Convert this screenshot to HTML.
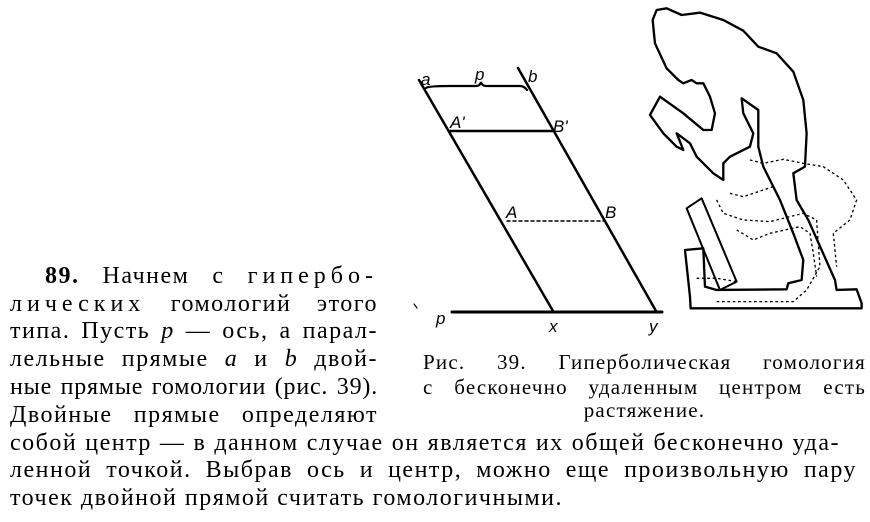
<!DOCTYPE html>
<html><head><meta charset="utf-8"><style>
body{margin:0;width:870px;height:522px;background:#fff;position:relative;overflow:hidden;font-family:"Liberation Serif","Noto Serif CJK SC",serif;color:#000}
.l{position:absolute;font-size:24px;letter-spacing:1.5px;line-height:28px;height:28px;white-space:nowrap;text-align:justify;text-align-last:justify}
.s{letter-spacing:5px}
.c{position:absolute;font-size:21px;letter-spacing:1.2px;line-height:24px;white-space:nowrap;text-align:justify;text-align-last:justify;left:423px;width:443px}
svg{position:absolute;left:0;top:0}
</style></head><body>
<svg width="870" height="522" viewBox="0 0 870 522">
<g stroke="#000" fill="none" stroke-linecap="round">
<line x1="419" y1="80" x2="553" y2="311" stroke-width="2.5"/>
<line x1="518" y1="68" x2="656" y2="311" stroke-width="2.5"/>
<path d="M426 88 Q428 86 450 86 L476 86 Q480 86 481 82 Q482 86 486 86 L520 86 Q524 86 527 90" stroke-width="2.2"/>
<line x1="449" y1="131" x2="553" y2="131" stroke-width="2.5"/>
<line x1="507" y1="221" x2="605" y2="221" stroke-width="1.5" stroke-dasharray="3,3"/>
<line x1="452" y1="312" x2="662" y2="312" stroke-width="3"/>
<line x1="414" y1="304" x2="417" y2="308" stroke-width="1.2"/>
</g>
<g font-family="Liberation Sans,sans-serif" font-style="italic" font-size="17" fill="#000">
<text x="421" y="85">a</text><text x="475" y="80">p</text><text x="528" y="82">b</text>
<text x="450" y="128">A'</text><text x="553" y="132">B'</text>
<text x="506" y="218">A</text><text x="605" y="218">B</text>
<text x="436" y="324">p</text><text x="549" y="332">x</text><text x="649" y="332">y</text>
</g>
<g transform="translate(410,0) scale(0.3333)" stroke="#000" fill="none" stroke-width="7" stroke-linejoin="round">
<path d="M805 240 L770 205 L735 130 L728 60 L740 30 L770 25 L815 45 L870 38 L940 60 L1000 92 L1045 140 L1100 160 L1150 215 L1180 300 L1190 400 L1185 500 L1150 520 L1160 600 L1195 660 L1235 750 L1275 840 L1280 870 L1340 868 L1355 910 L1355 925 L842 925 L840 890 L825 750 L880 745 L885 860 L920 870 L1130 868 L1135 850 L1175 840 L1180 780 L1150 700 L1110 600 L1060 500 L1045 440 L1045 330 L995 295 L1000 340 L1030 400 L1020 440 L960 470 L940 490 L940 540 L910 520 L860 470 L840 430 L800 400 L820 450 L800 440 L760 400 L720 345 L750 290 L820 340 L880 390 L905 390 L915 340 L900 290 L880 250 L860 250 L845 240 L820 250 Z"/>
<path d="M830 625 L875 595 L980 845 L930 870 Z" stroke-width="6"/>
<g stroke-width="4" stroke-dasharray="8,8">
<path d="M1020 480 L1060 490 L1120 478 L1180 490 L1240 500 L1300 540 L1340 600 L1320 660 L1270 700 L1280 800"/>
<path d="M920 600 L940 640 L1000 660 L1080 665 L1180 640 L1220 660 L1230 800 L1190 870 L1150 905 L920 905"/>
<path d="M960 580 L1000 590 L1060 570 L1090 560"/>
<path d="M980 690 L1030 720 L1080 700 L1170 680 L1200 700 L1210 760 L1220 830"/>
<path d="M860 835 L920 835 L980 845"/>
</g>
</g>
</svg>
<div class="l" style="left:45px;width:333px;top:262px"><b>89.</b> Начнем с <span class="s">гипербо-</span></div>
<div class="l" style="left:10px;width:368px;top:290px"><span class="s">лических</span> гомологий этого</div>
<div class="l" style="left:10px;width:368px;top:317px">типа. Пусть <i>p</i> — ось, а парал-</div>
<div class="l" style="left:10px;width:368px;top:345px">лельные прямые <i>a</i> и <i>b</i> двой-</div>
<div class="l" style="left:10px;width:368px;top:373px;letter-spacing:0.8px">ные прямые гомологии (рис. 39).</div>
<div class="l" style="left:10px;width:368px;top:401px">Двойные прямые определяют</div>
<div class="l" style="left:10px;width:830px;top:429px">собой центр — в данном случае он является их общей бесконечно уда-</div>
<div class="l" style="left:10px;width:847px;top:456px">ленной точкой. Выбрав ось и центр, можно еще произвольную пару</div>
<div class="l" style="left:10px;top:484px;text-align-last:left">точек двойной прямой считать гомологичными.</div>
<div class="c" style="top:350px">Рис. 39. Гиперболическая гомология</div>
<div class="c" style="top:375px">с бесконечно удаленным центром есть</div>
<div class="c" style="top:398px;text-align:center;text-align-last:center">растяжение.</div>
</body></html>
